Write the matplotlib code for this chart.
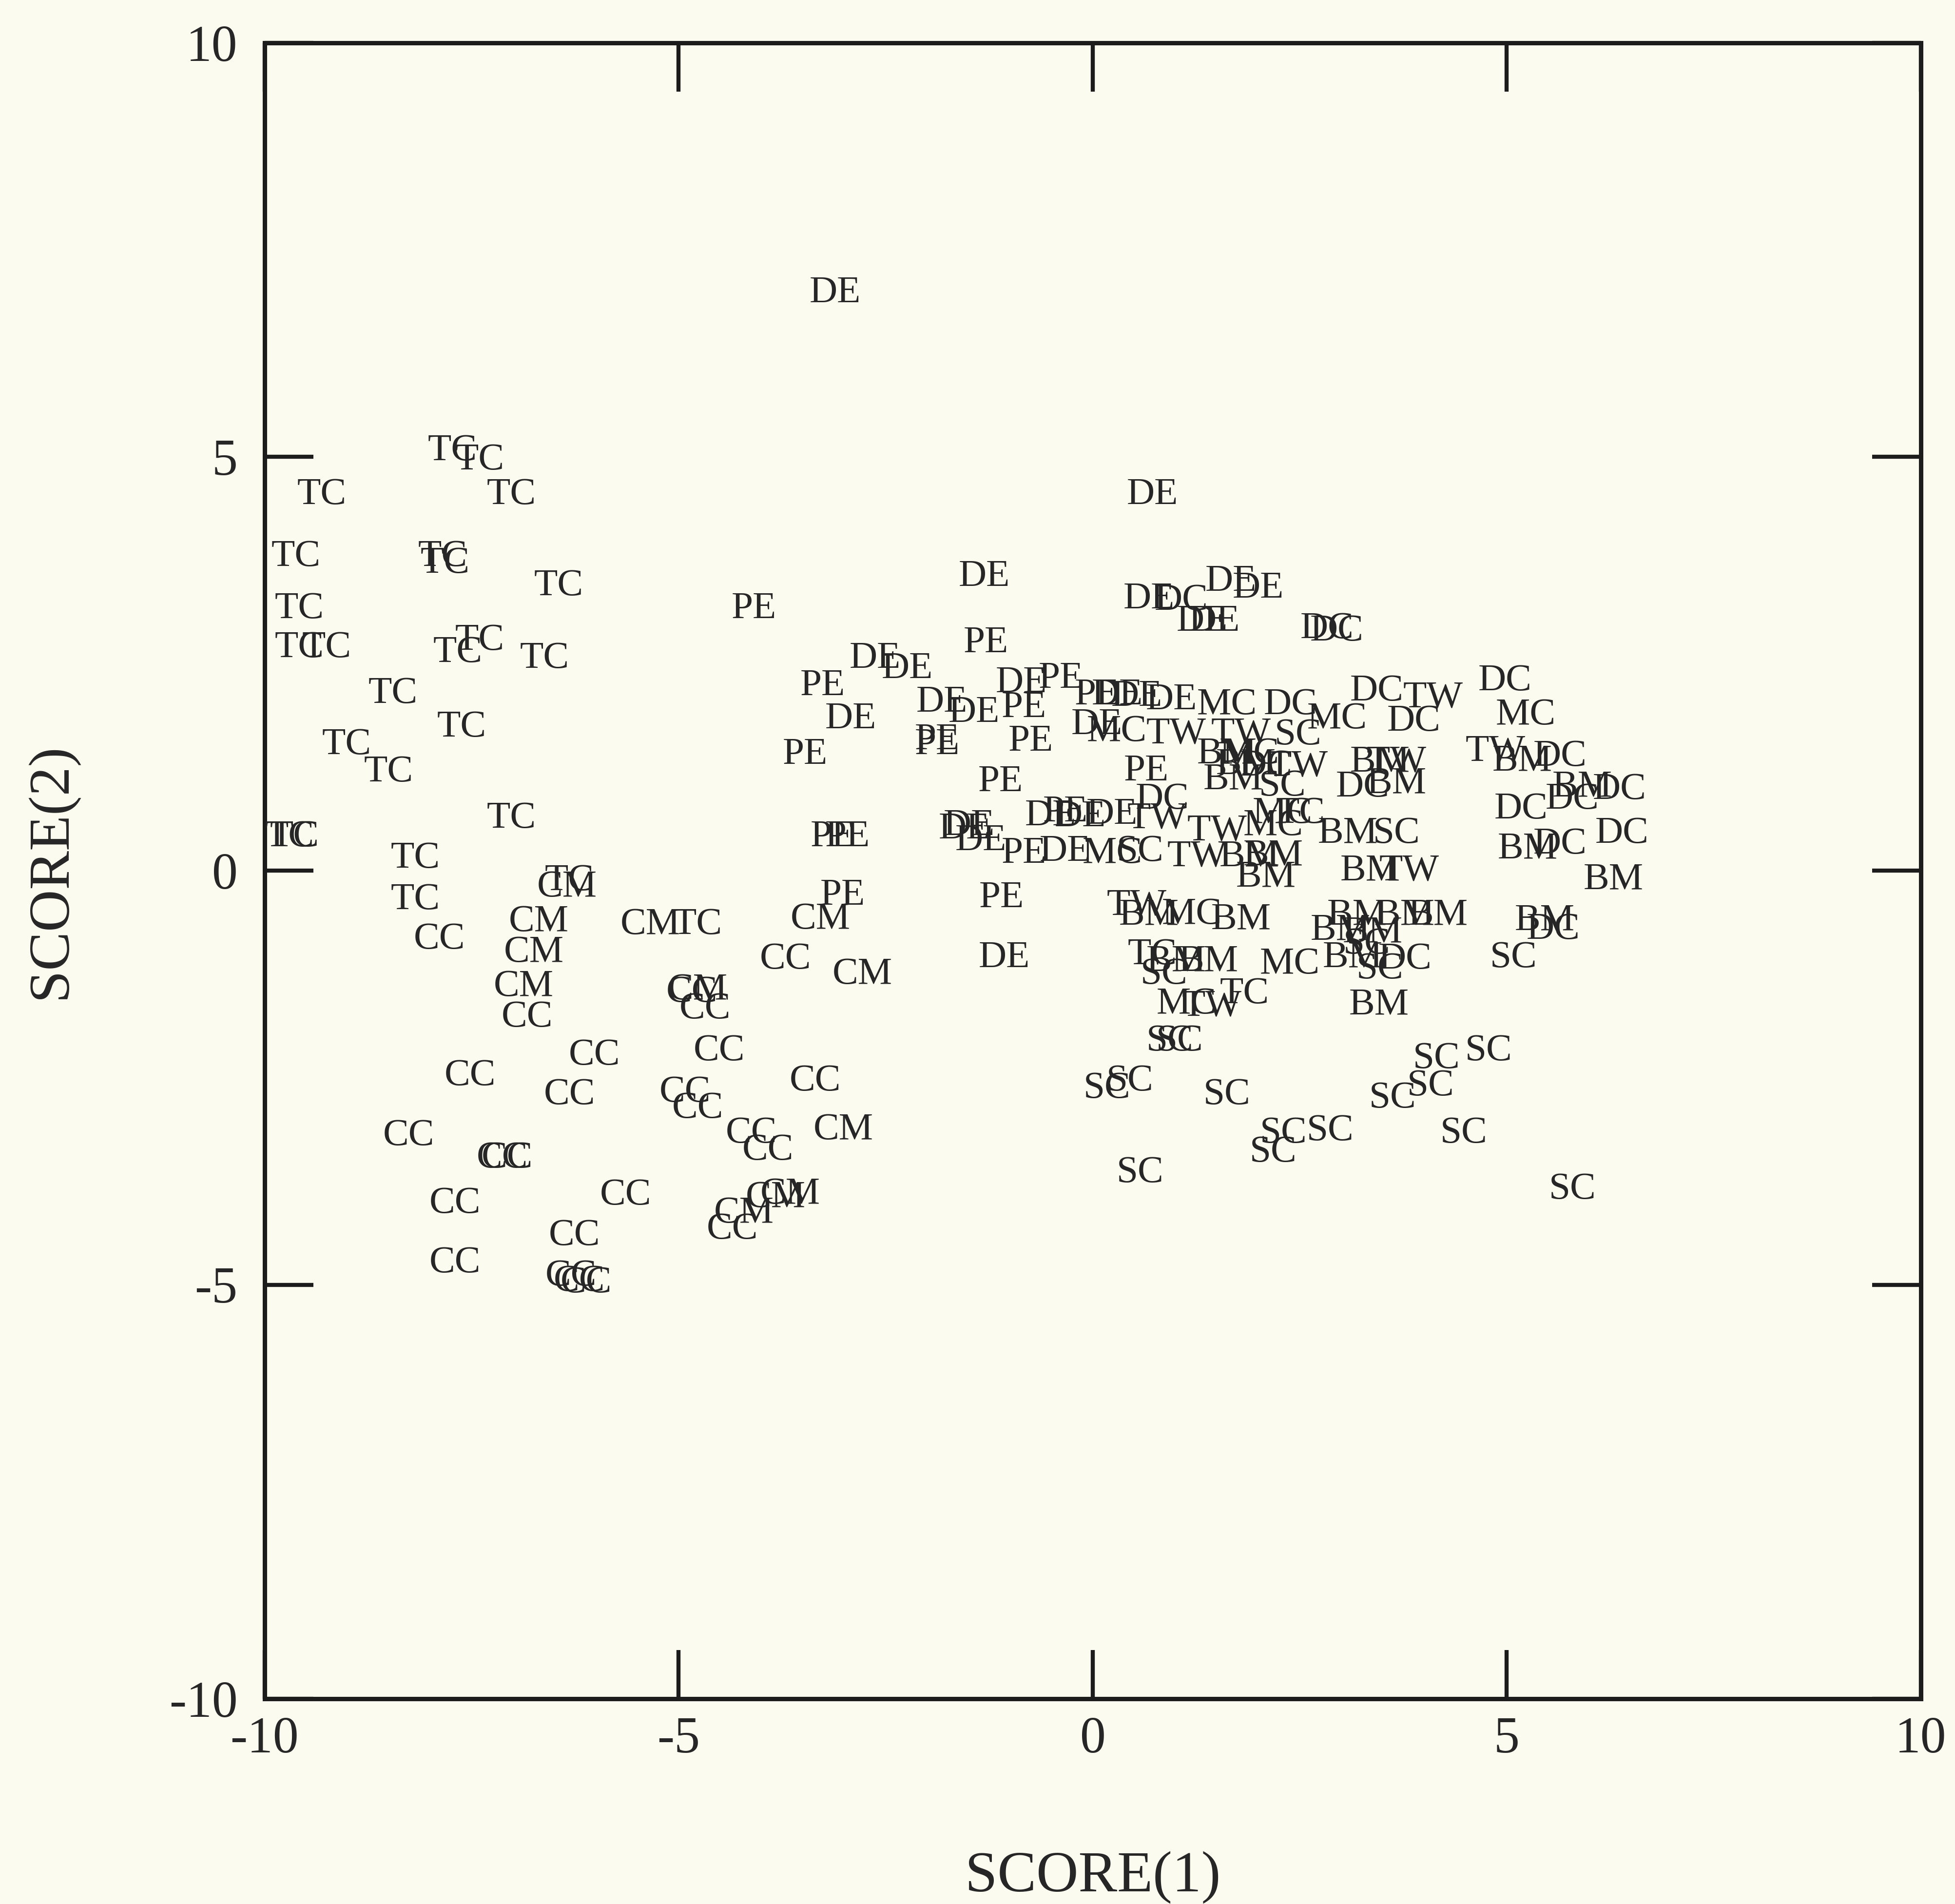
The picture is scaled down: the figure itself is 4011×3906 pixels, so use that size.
import matplotlib
matplotlib.use("Agg")
import matplotlib.pyplot as plt

# ── discriminant scores, one pair of lists per group label ───────────────
TC_X = [-7.73, -7.40, -9.31, -7.02, -9.62, -7.85, -7.82, -6.45, -9.58, -9.58,
        -9.25, -7.67, -7.40, -6.62, -8.45, -7.62, -9.01, -8.50, -7.02, -9.70,
        -9.64, -8.18, -8.18, -6.32, -4.77, 0.72, 1.83, 2.51]
TC_Y = [5.07, 4.96, 4.54, 4.54, 3.79, 3.79, 3.71, 3.44, 3.16, 2.69,
        2.69, 2.63, 2.78, 2.56, 2.14, 1.73, 1.52, 1.19, 0.63, 0.41,
        0.41, 0.15, -0.35, -0.12, -0.65, -1.02, -1.49, 0.69]

PE_X = [-4.09, -3.26, -3.47, -1.29, -1.88, -1.88, -0.75, -1.11, -0.83, -0.38,
        0.65, -3.14, -2.96, -3.02, -1.10, -0.83, 0.05, -0.33]
PE_Y = [3.16, 2.23, 1.40, 2.75, 1.58, 1.52, 1.56, 1.07, 1.97, 2.32,
        1.20, 0.41, 0.41, -0.30, -0.33, 0.21, 2.12, 0.71]

DE_X = [-3.11, 0.72, -1.31, 0.68, 1.67, 2.00, 1.32, 1.47, -2.63, -2.24,
        -2.92, -1.82, -1.43, -0.86, 0.30, 0.53, 0.95, -1.49, -1.55, -1.35,
        -0.51, -0.33, -0.15, 0.23, -1.07, 0.05]
DE_Y = [6.98, 4.54, 3.55, 3.28, 3.49, 3.41, 3.01, 3.01, 2.56, 2.44,
        1.83, 2.03, 1.91, 2.27, 2.12, 2.10, 2.06, 0.54, 0.50, 0.36,
        0.66, 0.23, 0.65, 0.68, -1.05, 1.76]

DC_X = [1.07, 2.83, 2.95, 2.39, 3.43, 3.88, 4.98, 5.64, 6.36, 5.79,
        5.17, 6.39, 5.64, 5.56, 0.84, 3.26, 3.77, 2.09]
DC_Y = [3.26, 2.92, 2.89, 2.00, 2.17, 1.80, 2.29, 1.38, 0.98, 0.86,
        0.74, 0.45, 0.32, -0.71, 0.86, 1.01, -1.07, 1.26]

MC_X = [0.29, 1.62, 2.95, 5.23, 2.29, 2.18, 0.24, 1.13, 2.38, 1.89, 1.20]
MC_Y = [1.68, 2.00, 1.83, 1.88, 0.69, 0.54, 0.21, -1.61, -1.13, 1.41, -0.53]

TW_X = [4.11, 1.01, 1.79, 4.86, 0.78, 1.50, 1.26, 3.82, 0.53, 1.44, 2.48, 3.67]
TW_Y = [2.09, 1.65, 1.65, 1.44, 0.63, 0.48, 0.17, 0.00, -0.42, -1.64, 1.26, 1.31]

SC_X = [2.48, 2.29, 0.57, 3.67, 0.86, 0.93, 1.05, 0.17, 0.45, 1.62,
        2.30, 2.18, 2.87, 3.47, 3.62, 4.08, 4.15, 4.78, 4.48, 5.79,
        5.08, 0.57, 3.31]
SC_Y = [1.64, 1.02, 0.23, 0.45, -1.25, -2.06, -2.06, -2.63, -2.54, -2.71,
        -3.17, -3.40, -3.14, -1.19, -2.75, -2.60, -2.27, -2.18, -3.17, -3.85,
        -1.05, -3.65, -0.89]

BM_X = [3.47, 3.67, 5.91, 5.19, 5.25, 6.29, 5.46, 3.08, 3.35, 3.19,
        3.77, 4.17, 2.99, 3.38, 3.14, 3.46, 1.89, 2.18, 2.09, 0.68,
        1.79, 1.01, 1.40, 1.70, 1.62, 1.85]
BM_Y = [1.31, 1.05, 1.01, 1.32, 0.26, -0.11, -0.60, 0.45, 0.00, -0.54,
        -0.54, -0.54, -0.72, -0.75, -1.05, -1.62, 0.17, 0.18, -0.08, -0.54,
        -0.59, -1.10, -1.10, 1.10, 1.41, 1.28]

CM_X = [-6.35, -6.69, -6.75, -6.87, -5.34, -3.29, -2.78, -4.77, -3.01, -4.21,
        -3.83, -3.65]
CM_Y = [-0.20, -0.62, -0.99, -1.40, -0.65, -0.59, -1.25, -1.44, -3.13, -4.14,
        -3.95, -3.91]

CC_X = [-4.84, -7.89, -3.71, -6.83, -4.68, -6.02, -4.51, -7.52, -6.32, -4.92,
        -4.77, -3.35, -8.26, -7.13, -7.07, -4.12, -3.92, -7.70, -5.64, -6.26,
        -7.70, -6.30, -6.20, -6.12, -4.35]
CC_Y = [-1.47, -0.83, -1.07, -1.77, -1.67, -2.23, -2.18, -2.48, -2.71, -2.68,
        -2.87, -2.54, -3.20, -3.47, -3.47, -3.17, -3.38, -4.02, -3.92, -4.41,
        -4.74, -4.90, -4.96, -4.98, -4.33]

GROUPS = [
    ("TC", TC_X, TC_Y), ("PE", PE_X, PE_Y), ("DE", DE_X, DE_Y),
    ("DC", DC_X, DC_Y), ("MC", MC_X, MC_Y), ("TW", TW_X, TW_Y),
    ("SC", SC_X, SC_Y), ("BM", BM_X, BM_Y), ("CM", CM_X, CM_Y),
    ("CC", CC_X, CC_Y),
]

TICKS = [-10, -5, 0, 5, 10]

PAPER = "#fcfbef"
INK = "#262626"
FRAME = "#1c1c1c"

plt.rcParams["font.family"] = ["Liberation Serif", "DejaVu Serif"]

fig = plt.figure(figsize=(40.12, 39.06), dpi=100, facecolor=PAPER)
ax = fig.add_axes([0.1353, 0.1078, 0.847, 0.8697])
ax.set_facecolor(PAPER)

# each case is drawn as its group code, centred on its score pair
for label, xs, ys in GROUPS:
    for x, y in zip(xs, ys):
        ax.text(x, y, label, ha="center", va="center", fontsize=57,
                color=INK, zorder=3)

ax.set_xlim(-10, 10)
ax.set_ylim(-10, 10)
ax.set_xticks(TICKS)
ax.set_yticks(TICKS)
ax.set_xticklabels([str(t) for t in TICKS])
ax.set_yticklabels([str(t) for t in TICKS])

for spine in ax.spines.values():
    spine.set_linewidth(6.5)
    spine.set_color(FRAME)

ax.tick_params(axis="both", direction="in", length=72, width=6,
               color=FRAME, top=True, right=True, labelsize=76,
               labelcolor=INK)
ax.tick_params(axis="x", pad=26)
ax.tick_params(axis="y", pad=40)

ax.set_xlabel("SCORE(1)", fontsize=86, color=INK)
ax.set_ylabel("SCORE(2)", fontsize=86, color=INK)
ax.xaxis.set_label_coords(0.5, -0.092)
ax.yaxis.set_label_coords(-0.113, 0.5)

fig.savefig("out.png", dpi=100, facecolor=PAPER)
